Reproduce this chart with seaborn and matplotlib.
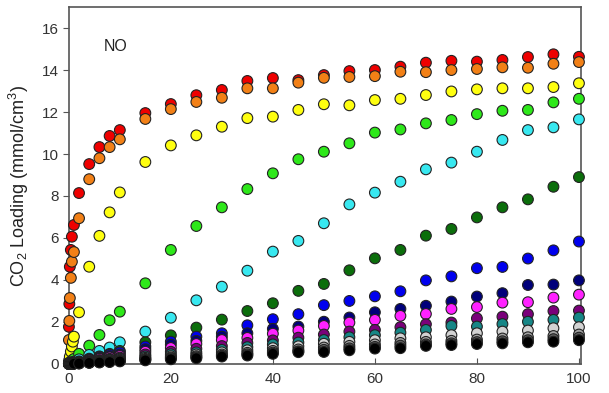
import numpy as np
import pandas as pd
import matplotlib
matplotlib.use("Agg")
import matplotlib.pyplot as plt
import seaborn as sns

nan = np.nan
pressure = [0.02, 0.1, 0.2, 0.4, 0.6, 0.8, 1, 2, 4, 6, 8, 10, 15, 20, 25, 30, 35, 40,
            45, 50, 55, 60, 65, 70, 75, 80, 85, 90, 95, 100]

red = [1.77, 2.86, 4.63, 5.43, 6.06, nan, 6.62, 8.14, 9.52, 10.33, 10.86, 11.14, 11.95, 12.38,
       12.80, 13.05, 13.48, 13.62, 13.52, 13.76, 13.95, 14.00, 14.16, 14.35, 14.44, 14.40,
       14.48, 14.62, 14.75, 14.63]
orange = [1.14, 2.05, 3.14, 4.10, 4.87, nan, 5.33, 6.94, 8.80, 9.80, 10.33, 10.70, 11.67, 12.14,
          12.48, 12.68, 13.13, 13.13, 13.40, 13.63, 13.67, 13.71, 13.92, 13.90, 14.00, 14.05,
          14.13, 14.11, 14.30, 14.38]
yellow = [0.10, 0.20, 0.35, 0.59, 0.83, 1.06, 1.30, 2.46, 4.63, 6.10, 7.22, 8.17, 9.62, 10.41,
          10.89, 11.30, 11.71, 11.78, 12.10, 12.37, 12.32, 12.57, 12.63, 12.81, 12.98, 13.08,
          13.13, 13.13, 13.19, 13.37]
lime = [0.02, 0.04, 0.07, 0.11, 0.15, 0.19, 0.24, 0.48, 0.87, 1.38, 2.08, 2.49, 3.84, 5.43,
        6.57, 7.46, 8.33, 9.08, 9.75, 10.11, 10.51, 11.02, 11.17, 11.46, 11.62, 11.90, 12.06,
        12.10, 12.46, 12.63]
cyan = [0.01, 0.02, 0.03, 0.05, 0.07, 0.09, 0.11, 0.22, 0.43, 0.62, 0.78, 1.03, 1.54, 2.20,
        3.03, 3.68, 4.44, 5.35, 5.86, 6.70, 7.60, 8.16, 8.68, 9.27, 9.59, 10.11, 10.67, 11.14,
        11.27, 11.65]
darkgreen = [0.01, 0.01, 0.02, 0.03, 0.04, 0.05, 0.06, 0.12, 0.25, 0.36, 0.48, 0.62, 1.03, 1.36,
             1.73, 2.11, 2.52, 2.89, 3.48, 3.81, 4.46, 5.03, 5.43, 6.11, 6.43, 6.98, 7.46, 7.84,
             8.44, 8.90]
blue = [0.01, 0.01, 0.02, 0.03, 0.04, 0.05, 0.06, 0.10, 0.22, 0.33, 0.44, 0.55, 0.83, 1.06,
        1.30, 1.46, 1.84, 2.13, 2.37, 2.80, 3.00, 3.22, 3.46, 3.98, 4.17, 4.56, 4.62, 5.02,
        5.41, 5.83]
navy = [0.01, 0.01, 0.02, 0.02, 0.03, 0.04, 0.05, 0.09, 0.19, 0.28, 0.37, 0.45, 0.70, 0.92,
        1.10, 1.30, 1.46, 1.67, 1.78, 2.01, 2.21, 2.46, 2.62, 2.77, 2.97, 3.21, 3.37, 3.76,
        3.78, 3.98]
magenta = [0.01, 0.01, 0.01, 0.02, 0.03, 0.03, 0.04, 0.08, 0.16, 0.24, 0.31, 0.38, 0.58, 0.76,
           0.95, 1.14, 1.24, 1.44, 1.59, 1.81, 1.97, 2.10, 2.29, 2.38, 2.62, 2.71, 2.92, 2.94,
           3.16, 3.30]
purple = [0.01, 0.01, 0.01, 0.02, 0.02, 0.03, 0.03, 0.06, 0.12, 0.18, 0.24, 0.30, 0.45, 0.58,
          0.72, 0.85, 1.00, 1.12, 1.25, 1.40, 1.54, 1.62, 1.75, 1.89, 1.97, 2.17, 2.25, 2.37,
          2.52, 2.54]
teal = [0.01, 0.01, 0.01, 0.02, 0.02, 0.02, 0.03, 0.05, 0.10, 0.15, 0.20, 0.25, 0.36, 0.46,
        0.55, 0.67, 0.80, 0.93, 1.02, 1.14, 1.27, 1.37, 1.49, 1.62, 1.81, 1.78, 1.90, 2.01,
        2.10, 2.21]
lightgray = [0.00, 0.01, 0.01, 0.01, 0.02, 0.02, 0.02, 0.04, 0.08, 0.12, 0.16, 0.20, 0.29, 0.37,
             0.45, 0.55, 0.65, 0.75, 0.84, 0.96, 1.05, 1.13, 1.22, 1.27, 1.37, 1.46, 1.54, 1.59,
             1.70, 1.75]
gray = [0.00, 0.01, 0.01, 0.01, 0.01, 0.02, 0.02, 0.03, 0.07, 0.10, 0.13, 0.16, 0.24, 0.31,
        0.37, 0.45, 0.53, 0.62, 0.69, 0.78, 0.86, 0.93, 1.00, 1.05, 1.10, 1.16, 1.21, 1.27,
        1.33, 1.40]
darkgray = [0.00, 0.00, 0.01, 0.01, 0.01, 0.01, 0.02, 0.03, 0.06, 0.08, 0.11, 0.14, 0.20, 0.27,
            0.32, 0.39, 0.46, 0.54, 0.60, 0.67, 0.74, 0.81, 0.87, 0.93, 0.98, 1.04, 1.08, 1.13,
            1.18, 1.25]
black = [0.00, 0.00, 0.01, 0.01, 0.01, 0.01, 0.01, 0.02, 0.05, 0.07, 0.09, 0.12, 0.17, 0.22,
         0.27, 0.35, 0.40, 0.48, 0.56, 0.57, 0.65, 0.73, 0.75, 0.86, 0.90, 0.95, 0.98, 1.03,
         1.06, 1.13]

series_names = ["red", "orange", "yellow", "lime", "cyan", "darkgreen", "blue", "navy",
                "magenta", "purple", "teal", "lightgray", "gray", "darkgray", "black"]
series_values = [red, orange, yellow, lime, cyan, darkgreen, blue, navy, magenta, purple,
                 teal, lightgray, gray, darkgray, black]
series_colors = ["#ee0000", "#f28016", "#ffff10", "#2ee81a", "#38e8f0", "#0b6e0b", "#0000ee",
                 "#00007a", "#ff22ff", "#7a007a", "#168686", "#d2d2d2", "#a2a2a2", "#5e5e5e",
                 "#000000"]

rows = []
for name, vals in zip(series_names, series_values):
    for p, v in zip(pressure, vals):
        if not np.isnan(v):
            rows.append({"Pressure": p, "Loading": v, "Series": name})
df = pd.DataFrame(rows)

sns.set_theme(style="ticks")
plt.rcParams["font.family"] = ["Liberation Sans", "DejaVu Sans"]
plt.rcParams["mathtext.default"] = "regular"

fig = plt.figure(figsize=(6.09, 3.93), dpi=100)
ax = fig.add_axes([0.113, 0.074, 0.841, 0.908])

sns.scatterplot(data=df, x="Pressure", y="Loading", hue="Series",
                palette=dict(zip(series_names, series_colors)), hue_order=series_names,
                s=60, edgecolor="#222222", linewidth=0.8, legend=False, ax=ax,
                clip_on=False, zorder=3)

ax.set_xlim(0, 100.4)
ax.set_ylim(0, 17)
ax.set_xticks([0, 20, 40, 60, 80, 100])
ax.set_yticks([0, 2, 4, 6, 8, 10, 12, 14, 16])
ax.tick_params(axis="x", direction="in", length=4, width=0.8, color="#555555",
               labelsize=11, labelcolor="#333333", pad=6)
ax.tick_params(axis="y", direction="out", length=4, width=0.8, color="#555555",
               labelsize=11, labelcolor="#333333", pad=3)
for sp in ax.spines.values():
    sp.set_visible(True)
    sp.set_color("#555555")
    sp.set_linewidth(1.2)

ax.set_xlabel("")
ax.set_ylabel("CO$_2$ Loading (mmol/cm$^3$)", fontsize=13, color="#222222", labelpad=8)
ax.text(9.2, 15.1, "NO", fontsize=11.5, color="#222222", ha="center", va="center")

fig.savefig("out.png", dpi=100)
